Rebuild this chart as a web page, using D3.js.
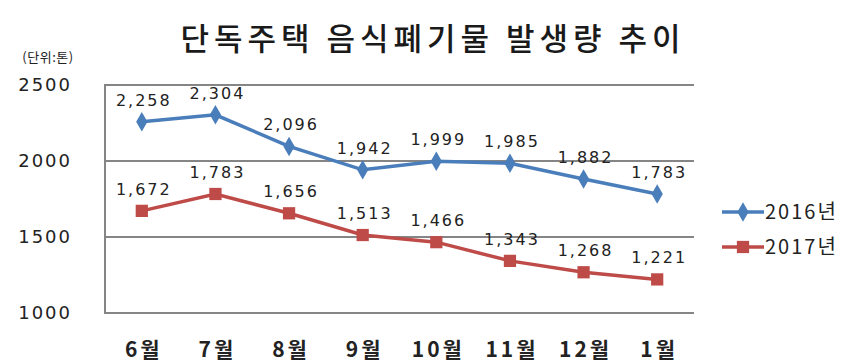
<!DOCTYPE html>
<html><head><meta charset="utf-8">
<script src="https://cdn.jsdelivr.net/npm/d3@7/dist/d3.min.js"></script>
<style>
html,body{margin:0;padding:0;background:#fff;}
svg{display:block;}
</style></head>
<body>
<svg id="chart" width="863" height="364"></svg>
<script>
const months = ["6월","7월","8월","9월","10월","11월","12월","1월"];
const s2016 = [2258,2304,2096,1942,1999,1985,1882,1783];
const s2017 = [1672,1783,1656,1513,1466,1343,1268,1221];
const yTicks = [1000,1500,2000,2500];
const seriesNames = ["2016년","2017년"];
const title = "단독주택 음식폐기물 발생량 추이";
const unitLabel = "(단위:톤)";

const svg = d3.select("#chart");
const L = 105, R = 694, T = 85, B = 313;
const x = d3.scalePoint().domain(months).range([L, R]).padding(0.5);
const y = d3.scaleLinear().domain([1000, 2500]).range([B, T]);
const fmt = d3.format(",");
const kr = "'Noto Sans CJK KR', 'Noto Sans', sans-serif";
const num = "'DejaVu Sans', Verdana, sans-serif";

// title
svg.append("text").attr("x", 433).attr("y", 50).attr("text-anchor", "middle")
  .attr("font-family", kr).attr("font-weight", 500).attr("font-size", 31)
  .attr("letter-spacing", 5).attr("fill", "#1a1a1a").text(title);

// unit
svg.append("text").attr("x", 48).attr("y", 62).attr("text-anchor", "middle")
  .attr("font-family", kr).attr("font-size", 13).attr("letter-spacing", 0.5)
  .attr("fill", "#222").text(unitLabel);

// grid lines
svg.append("g").selectAll("line").data(yTicks).join("line")
  .attr("x1", L).attr("x2", R).attr("y1", d => y(d)).attr("y2", d => y(d))
  .attr("stroke", "#858585").attr("stroke-width", 2);
// left axis
svg.append("line").attr("x1", L).attr("x2", L).attr("y1", T - 1).attr("y2", B + 1)
  .attr("stroke", "#858585").attr("stroke-width", 2);

// y tick labels
svg.append("g").selectAll("text").data(yTicks).join("text")
  .attr("x", 72).attr("y", d => y(d) + 6).attr("text-anchor", "end")
  .attr("font-family", num).attr("font-size", 18).attr("letter-spacing", 2)
  .attr("fill", "#222").text(d => d);

// x labels
svg.append("g").selectAll("text").data(months).join("text")
  .attr("x", d => x(d) + 2).attr("y", 357).attr("text-anchor", "middle")
  .attr("font-family", kr).attr("font-weight", "bold").attr("font-size", 21)
  .attr("letter-spacing", 3).attr("fill", "#222").text(d => d);

const series = [
  {name: seriesNames[0], vals: s2016, color: "#4a7ebb", shape: d3.symbolDiamond, size: 110},
  {name: seriesNames[1], vals: s2017, color: "#be4b48", shape: d3.symbolSquare, size: 150}
];

const line = d3.line().x((d, i) => x(months[i])).y(d => y(d));

series.forEach(s => {
  const g = svg.append("g");
  g.append("path").datum(s.vals).attr("d", line)
    .attr("fill", "none").attr("stroke", s.color).attr("stroke-width", 3.5);
  g.selectAll("path.m").data(s.vals).join("path").attr("class", "m")
    .attr("transform", (d, i) => `translate(${x(months[i])},${y(d)})`)
    .attr("d", d3.symbol().type(s.shape).size(s.size)).attr("fill", s.color);
  g.selectAll("text").data(s.vals).join("text")
    .attr("x", (d, i) => x(months[i]) + 2).attr("y", d => y(d) - 16)
    .attr("text-anchor", "middle").attr("font-family", num).attr("font-size", 16)
    .attr("letter-spacing", 2).attr("fill", "#222").text(d => fmt(d));
});

// legend
const lg = svg.append("g");
series.forEach((s, i) => {
  const cy = 212 + i * 35;
  lg.append("line").attr("x1", 722).attr("x2", 764).attr("y1", cy).attr("y2", cy)
    .attr("stroke", s.color).attr("stroke-width", 3.5);
  lg.append("path").attr("transform", `translate(743,${cy})`)
    .attr("d", d3.symbol().type(s.shape).size(s.size)).attr("fill", s.color);
  lg.append("text").attr("x", 765).attr("y", cy + 7)
    .attr("font-family", kr).attr("font-size", 20).attr("letter-spacing", 2)
    .attr("fill", "#222").text(s.name);
});
</script>
</body></html>
